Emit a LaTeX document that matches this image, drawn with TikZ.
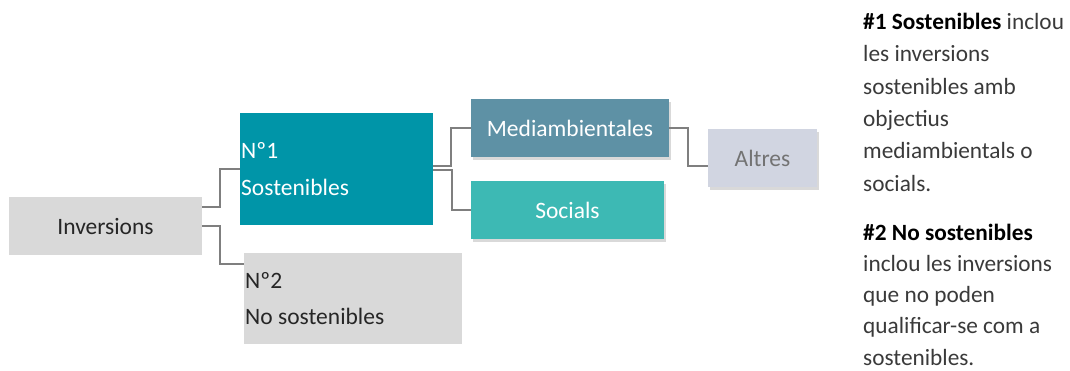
\documentclass[tikz,border=0pt]{standalone}
\usepackage{fontspec}
\setmainfont{Carlito}
\usetikzlibrary{shadows,calc}
\definecolor{boxgray}{HTML}{D9D9D9}
\definecolor{teal1}{HTML}{0095A8}
\definecolor{steel}{HTML}{5E91A5}
\definecolor{teal2}{HTML}{3DB9B4}
\definecolor{lilac}{HTML}{D1D5E1}
\definecolor{linegray}{HTML}{7F7F7F}
\definecolor{bodytext}{HTML}{3A3A3A}
\tikzset{
  box/.style={rectangle, inner sep=0pt, outer sep=0pt, anchor=north west},
  shade box/.style={box, drop shadow={opacity=0.3, shadow xshift=1.5pt, shadow yshift=-2.5pt}},
  conn/.style={draw=linegray, line width=1.4pt},
  boxtext/.style={font=\fontsize{23.5}{26}\selectfont},
  side/.style={anchor=base west, align=left, inner sep=0pt, text=bodytext}
}
\begin{document}
\begin{tikzpicture}[x=1pt,y=-1pt]
\useasboundingbox (0,0) rectangle (1070,370);
% boxes
\node[box, fill=boxgray, minimum width=193pt, minimum height=58pt] (inv) at (9,197) {};
\node[boxtext, text=black!85] at (inv.center) {Inversions};
\node[box, fill=teal1, minimum width=193pt, minimum height=112pt] (s1) at (240,113) {};
\node[boxtext, text=white, anchor=base west, inner sep=0pt] (s1a) at (241,158) {Nº1};
\node[boxtext, text=white, anchor=base west, inner sep=0pt] (s1b) at (241,195) {Sostenibles};
\node[box, fill=boxgray, minimum width=218pt, minimum height=91pt] (s2) at (244,253) {};
\node[boxtext, text=black!85, anchor=base west, inner sep=0pt] (s2a) at (245,288) {Nº2};
\node[boxtext, text=black!85, anchor=base west, inner sep=0pt] (s2b) at (245,324) {No sostenibles};
\node[shade box, fill=steel, minimum width=198pt, minimum height=58pt] (med) at (471,99) {};
\node[boxtext, text=white] at (med.center) {Mediambientales};
\node[shade box, fill=teal2, minimum width=193pt, minimum height=58pt] (soc) at (471,181) {};
\node[boxtext, text=white] at (soc.center) {Socials};
\node[shade box, fill=lilac, minimum width=109pt, minimum height=58pt] (alt) at (708,129) {};
\node[boxtext, text=black!55] at (alt.center) {Altres};
% connectors
\draw[conn] ($(inv.east)+(0,-19)$) -| (220,169) -- (s1.west |- 0,169);
\draw[conn] (inv.east) -| (220,264) -- (s2.west |- 0,264);
\draw[conn] ($(s1.east)+(0,-3)$) -| (451,128) -- (med.west);
\draw[conn] ($(s1.east)+(0,1)$) -| (452,210) -- (soc.west);
\draw[conn] (med.east) -| (688,166) -- (alt.west |- 0,166);
% side text
\node[side, font=\fontsize{23.3}{32.3}\selectfont] (t1) at (863,191) {\textbf{\textcolor{black}{\#1 Sostenibles}} inclou\\les inversions\\sostenibles amb\\objectius\\mediambientals o\\socials.};
\node[side, font=\fontsize{23.3}{31.2}\selectfont] (t2) at (863,365) {\textbf{\textcolor{black}{\#2 No sostenibles}}\\inclou les inversions\\que no poden\\qualificar-se com a\\sostenibles.};
\end{tikzpicture}
\end{document}
